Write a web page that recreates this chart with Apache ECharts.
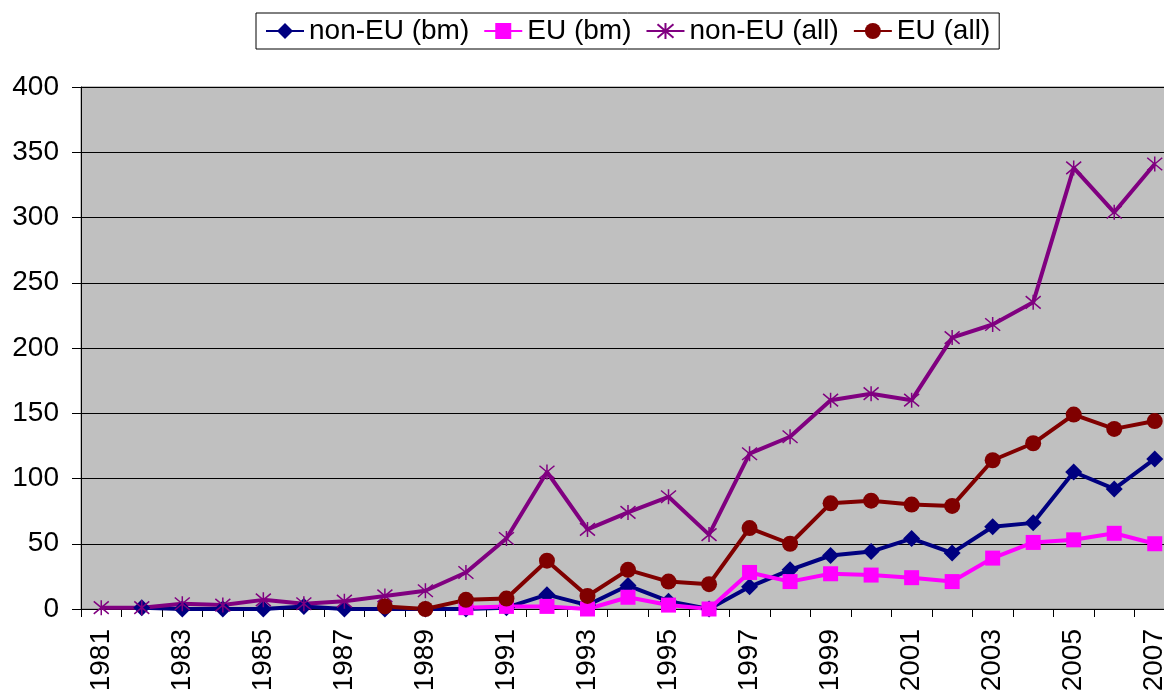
<!DOCTYPE html>
<html>
<head>
<meta charset="utf-8">
<script src="https://cdn.jsdelivr.net/npm/echarts@6/dist/echarts.min.js"></script>
<style>
html,body{margin:0;padding:0;background:#fff;}
#chart{width:1164px;height:691px;}
</style>
</head>
<body>
<div id="chart"></div>
<script>
var years = ['1981','1982','1983','1984','1985','1986','1987','1988','1989','1990','1991','1992','1993','1994','1995','1996','1997','1998','1999','2000','2001','2002','2003','2004','2005','2006','2007'];
var nonEUbm = [null,1,0,0,0,2,0,0,0,0,1,11,3,18,6,0,17,30,41,44,54,43,63,66,105,92,115];
var EUbm = [null,null,null,null,null,null,null,null,null,1,2,2,0,9,3,0,28,21,27,26,24,21,39,51,53,58,50];
var nonEUall = [1,1,4,3,7,4,6,10,14,28,54,105,61,74,86,57,119,132,160,165,160,208,218,235,338,304,341];
var EUall = [null,null,null,null,null,null,null,2,0,7,8,37,10,30,21,19,62,50,81,83,80,79,114,127,149,138,144];
var seriesNames = ['non-EU (bm)','EU (bm)','non-EU (all)','EU (all)'];
var yTicks = {min:0, max:400, interval:50};

var font = '"Liberation Sans", Arial, sans-serif';
var chart = echarts.init(document.getElementById('chart'), null, {renderer:'canvas'});
function mk(name, data, color, symbol, size, extraItem){
  return {
    name: name, type: 'line', data: data, connectNulls: false,
    symbol: symbol, symbolSize: size, showAllSymbol: true,
    lineStyle: {color: color, width: 4},
    itemStyle: Object.assign({color: color}, extraItem || {}),
    emphasis: {disabled: true},
    animation: false
  };
}
var starPath = 'path://M0,0L20,20M20,0L0,20M10,-2L10,22';
chart.setOption({
  backgroundColor: '#ffffff',
  animation: false,
  legend: {
    data: seriesNames,
    top: 13, left: 256,
    borderColor: '#000', borderWidth: 1,
    padding: [4, 9, 4, 9],
    itemWidth: 38, itemHeight: 20, itemGap: 14,
    textStyle: {fontFamily: font, fontSize: 28, color: '#000'}
  },
  grid: {left: 81, top: 87, width: 1094, height: 522, containLabel: false, outerBoundsMode: 'none', show: true, backgroundColor: '#c0c0c0', borderColor: '#808080', borderWidth: 1},
  xAxis: {
    type: 'category', data: years, boundaryGap: true,
    axisLine: {show: true, lineStyle: {color: '#000', width: 1}},
    axisTick: {show: true, length: 8, interval: 0, lineStyle: {color: '#000'}},
    axisLabel: {interval: 1, rotate: 90, margin: 20, fontFamily: font, fontSize: 28, color: '#000'},
    splitLine: {show: false}
  },
  yAxis: {
    type: 'value', min: yTicks.min, max: yTicks.max, interval: yTicks.interval,
    axisLine: {show: true, lineStyle: {color: '#000', width: 1}},
    axisTick: {show: true, length: 9, lineStyle: {color: '#000'}},
    axisLabel: {margin: 22, fontFamily: font, fontSize: 28, color: '#000'},
    splitLine: {show: true, lineStyle: {color: '#000', width: 1}}
  },
  series: [
    mk(seriesNames[0], nonEUbm, '#000080', 'diamond', 17),
    mk(seriesNames[1], EUbm, '#ff00ff', 'rect', 15),
    mk(seriesNames[2], nonEUall, '#800080', starPath, 15, {borderColor: '#800080', borderWidth: 1.5}),
    mk(seriesNames[3], EUall, '#800000', 'circle', 16)
  ]
});
</script>
</body>
</html>
